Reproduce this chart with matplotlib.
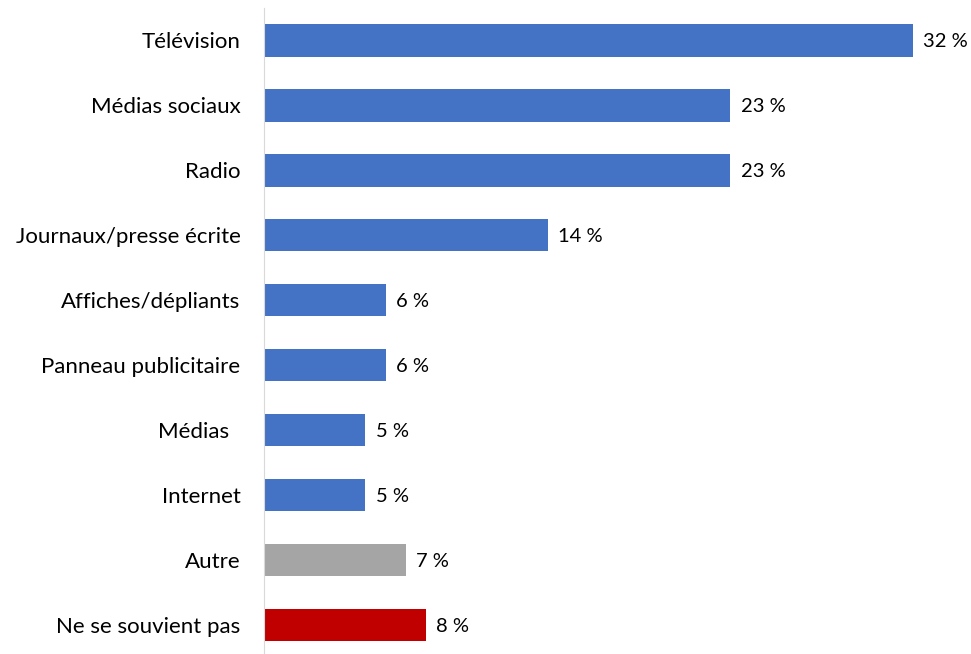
import matplotlib.pyplot as plt

categories = ["Télévision", "Médias sociaux", "Radio", "Journaux/presse écrite",
              "Affiches/dépliants", "Panneau publicitaire", "Médias  ", "Internet",
              "Autre", "Ne se souvient pas"]
values = [32, 23, 23, 14, 6, 6, 5, 5, 7, 8]
colors = ["#4472C4"] * 8 + ["#A5A5A5", "#C00000"]

plt.rcParams['font.family'] = ['Lato', 'DejaVu Sans']

fig = plt.figure(figsize=(9.71, 6.54), dpi=100)
ax = fig.add_axes([264 / 971, -0.005, 1 - 264 / 971 - 0.018, 1 - 8 / 654 + 0.005])

y = range(len(categories))
ax.barh(y, values, height=0.5, color=colors)
for i, v in enumerate(values):
    ax.text(v + 0.5, i + 0.02, f"{v} %", va="center", ha="left", fontsize=14.5, color="black")

ax.set_xlim(0, 34)
ax.set_ylim(len(categories) - 0.5, -0.5)
ax.set_yticks(list(y))
ax.set_yticklabels(categories, fontsize=16)
ax.tick_params(axis="y", length=0, pad=17)
ax.set_xticks([])
for s in ["top", "right", "bottom"]:
    ax.spines[s].set_visible(False)
ax.spines["left"].set_color("#D9D9D9")

fig.savefig("out.png", dpi=100)
